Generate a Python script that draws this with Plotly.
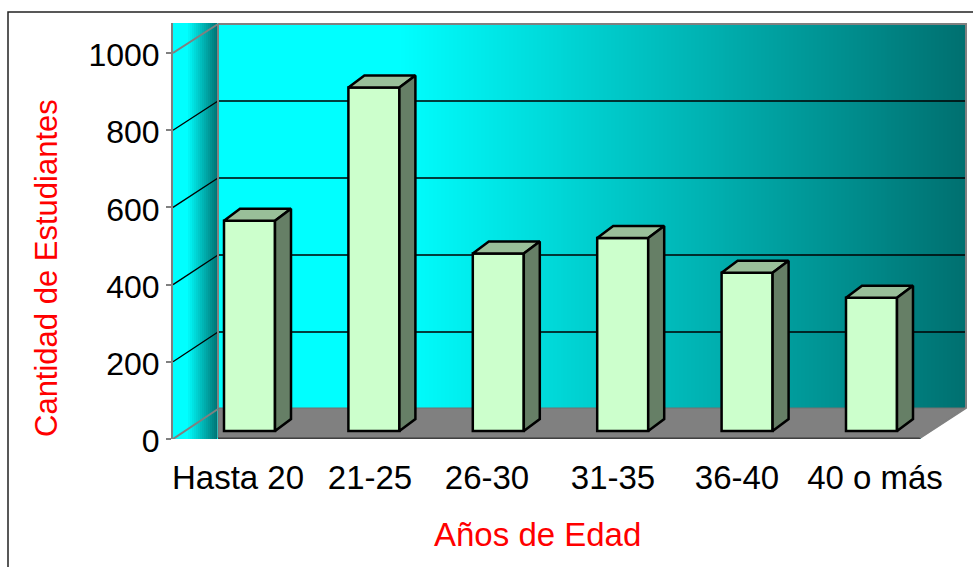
import numpy as np
import plotly.graph_objects as go

categories = ["Hasta 20", "21-25", "26-30", "31-35", "36-40", "40 o más"]
students = [545, 890, 460, 500, 410, 345]
y_ticks = [0, 200, 400, 600, 800, 1000]
x_title = "Años de Edad"
y_title = "Cantidad de Estudiantes"

W, H = 973, 567
L, R, T, B = 173, 968, 23, 439     # plot rectangle in pixels
PX_PER_CAT = 124.4
PX_PER_UNIT = 0.386
BAR0 = 249.5                       # pixel centre of first bar
BACK_DX, BACK_DY = 45, 30
BAR_DX, BAR_DY = 16, 12
BAR_BASE = 431

def cx(px):
    return (px - BAR0) / PX_PER_CAT

def vy(py, zero=B):
    return (zero - py) / PX_PER_UNIT

xr = [cx(L), cx(R)]
yr = [0, vy(T)]
y2r = [vy(B, BAR_BASE), vy(T, BAR_BASE)]
bw = 51 / PX_PER_CAT
ddx = BAR_DX / PX_PER_CAT
ddy = BAR_DY / PX_PER_UNIT

scale = [[0, "#007070"], [1, "#00ffff"]]
fig = go.Figure()

# walls
def wall(x0, x1, flat_until):
    xs = np.arange(x0, x1 + 1, 2.0)
    z = np.clip((x1 - xs) / (x1 - flat_until), 0, 1)
    fig.add_trace(go.Heatmap(x=cx(xs), y=[vy(B), vy(T)], z=[z, z], zmin=0, zmax=1,
                             colorscale=scale, showscale=False, hoverinfo="skip"))
wall(L, 218, 187)
wall(218, 965, 400)

def poly(x, y, fill=None, line="black", lw=1, xa="x", ya="y"):
    fig.add_trace(go.Scatter(x=x, y=y, mode="lines", xaxis=xa, yaxis=ya,
                             fill="toself" if fill else None, fillcolor=fill,
                             line=dict(color=line, width=lw), hoverinfo="skip", showlegend=False))

# floor and the blank corner to its right
poly([cx(218), cx(965), cx(920), cx(218), cx(218)],
     [vy(408), vy(408), vy(438), vy(438), vy(408)], fill="#808080", line="#707070", lw=1)
poly([cx(921), cx(966), cx(968), cx(968), cx(921)],
     [vy(438), vy(408), vy(408), vy(439), vy(439)], fill="white", line="white", lw=1)
poly([cx(218), cx(920)], [vy(438.5), vy(438.5)], line="#404040", lw=2)

# grid on side and back walls
for t in y_ticks:
    back_y = t + (BACK_DY - t / 1000) / PX_PER_UNIT
    c, w = ("#808080", 2) if t in (0, 1000) else ("black", 1.3)
    poly([cx(L), cx(218)], [t, back_y], line=c, lw=w)
    if t not in (0, 1000):
        poly([cx(218), cx(965)], [back_y, back_y], line="black", lw=1.3)
poly([cx(218), cx(966), cx(966), cx(920)], [vy(24), vy(24), vy(408), vy(438)], line="#808080", lw=2)
poly([cx(218), cx(218)], [vy(24), vy(408)], line="#808080", lw=2)

# bars
fig.add_trace(go.Bar(x=list(range(len(students))), y=students, width=bw, xaxis="x2", yaxis="y2",
                     marker=dict(color="#ccffcc", line=dict(color="black", width=2.5)),
                     hoverinfo="skip", showlegend=False))
for i, v in enumerate(students):
    a, b = i - bw / 2, i + bw / 2
    poly([a, a + ddx, b + ddx, b, a], [v, v + ddy, v + ddy, v, v],
         fill="#99bf99", lw=2.5, xa="x2", ya="y2")
    poly([b, b + ddx, b + ddx, b, b], [v, v + ddy, ddy, 0, v],
         fill="#667f66", lw=2.5, xa="x2", ya="y2")

label_px = [238, 370, 487, 613, 737, 875]
FONT = "Liberation Sans"
fig.update_layout(
    width=W, height=H, margin=dict(l=0, r=0, t=0, b=0, autoexpand=False), paper_bgcolor="white", plot_bgcolor="white",
    showlegend=False, barmode="overlay", font=dict(family=FONT, size=33, color="black"),
    xaxis=dict(domain=[L / W, R / W], range=xr, showgrid=False, zeroline=False, showline=False,
               tickmode="array", tickvals=[cx(p) for p in label_px], ticktext=categories,
               ticks="", ticklabelstandoff=16, tickangle=0, automargin=False,
               tickfont=dict(family=FONT, size=33, color="black")),
    yaxis=dict(domain=[(H - B) / H, (H - T) / H], range=yr, showgrid=False, zeroline=False,
               showline=True, linecolor="#808080", linewidth=2, tickmode="array", tickvals=y_ticks,
               ticks="outside", ticklen=5, tickcolor="#808080", tickwidth=2, automargin=False,
               ticklabelshift=2,
               tickfont=dict(family=FONT, size=32, color="black")),
    xaxis2=dict(overlaying="x", anchor="y2", domain=[L / W, R / W], range=xr, visible=False),
    yaxis2=dict(overlaying="y", anchor="x2", domain=[(H - B) / H, (H - T) / H], range=y2r, visible=False),
    annotations=[
        dict(text=x_title, xref="paper", yref="paper", x=537 / W, y=1 - 534 / H, showarrow=False,
             font=dict(family=FONT, size=33, color="#ff0000"), xanchor="center", yanchor="middle"),
        dict(text=y_title, xref="paper", yref="paper", x=46 / W, y=1 - 268 / H, showarrow=False, textangle=-90,
             font=dict(family=FONT, size=31, color="#ff0000"), xanchor="center", yanchor="middle"),
    ],
    shapes=[dict(type="rect", xref="paper", yref="paper", x0=8 / W, x1=1.05, y0=-0.05, y1=1 - 12 / H,
                 line=dict(color="#222222", width=1.5), layer="above")],
)
fig.write_html("out.html", config=dict(displayModeBar=False), post_script="document.body.style.margin='0';")
